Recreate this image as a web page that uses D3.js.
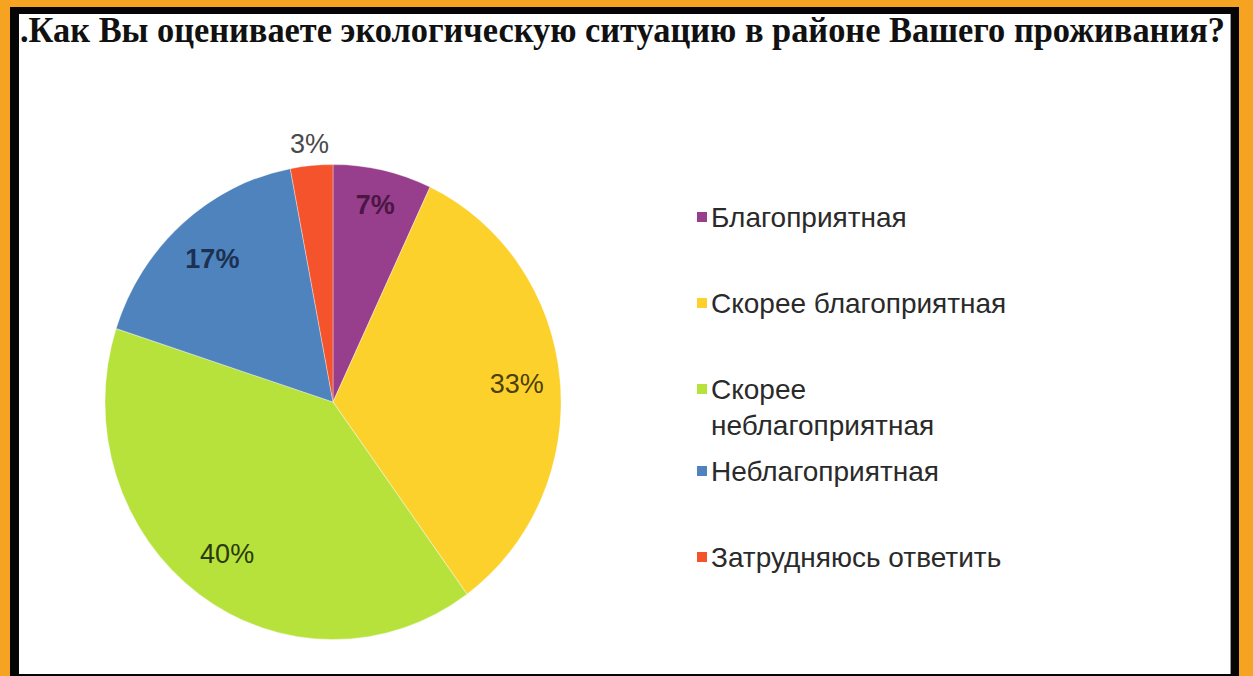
<!DOCTYPE html>
<html>
<head>
<meta charset="utf-8">
<script src="https://cdn.jsdelivr.net/npm/d3@7"></script>
<style>
  html, body { margin: 0; padding: 0; background: #fff; }
  svg { display: block; }
</style>
</head>
<body>
<svg id="chart" width="1253" height="676"></svg>
<script>
const title = ".Как Вы оцениваете экологическую ситуацию в районе Вашего проживания?";
const categories = ["Благоприятная", "Скорее благоприятная", "Скорее неблагоприятная", "Неблагоприятная", "Затрудняюсь ответить"];
const legendLines = [["Благоприятная"], ["Скорее благоприятная"], ["Скорее", "неблагоприятная"], ["Неблагоприятная"], ["Затрудняюсь ответить"]];
const values = [7, 33, 40, 17, 3];
const valueLabels = ["7%", "33%", "40%", "17%", "3%"];
const colors = ["#973f8c", "#fdd12b", "#b6e23b", "#4f83bd", "#f4532b"];
const labelColors = ["#4a1744", "#4d3f0c", "#2b3a0c", "#1c3052", "#4a4a4a"];

const svg = d3.select("#chart");
const W = 1253, H = 676;

// frame
svg.append("rect").attr("x", 0).attr("y", 0).attr("width", W).attr("height", H).attr("fill", "#f5a321");
svg.append("rect").attr("x", 10).attr("y", 7).attr("width", 1229).attr("height", H - 7).attr("fill", "#050505");
svg.append("rect").attr("x", 19).attr("y", 14).attr("width", 1212).attr("height", 660).attr("fill", "#ffffff");
svg.append("line").attr("x1", 1230.5).attr("x2", 1230.5).attr("y1", 14).attr("y2", 674).attr("stroke", "#9a9a9a").attr("stroke-width", 1);

// title
svg.append("text")
  .attr("x", 20).attr("y", 42)
  .attr("font-family", "'Liberation Serif', 'Times New Roman', serif")
  .attr("font-weight", "bold")
  .attr("font-size", 35)
  .attr("fill", "#111")
  .attr("textLength", 1205)
  .attr("lengthAdjust", "spacingAndGlyphs")
  .text(title);

// pie
const cx = 333, cy = 402, r = 228, sy = 1.042;
const pie = d3.pie().sort(null).value(d => d)(values);
const arc = d3.arc().innerRadius(0).outerRadius(r);
const g = svg.append("g").attr("transform", `translate(${cx},${cy}) scale(1,${sy})`);
g.selectAll("path").data(pie).enter().append("path")
  .attr("d", arc)
  .attr("fill", (d, i) => colors[i])
  .attr("stroke", "rgba(255,255,255,0.35)")
  .attr("stroke-width", 1);

// labels (positions along each slice's mid-angle)
const labelRadius = [0.85, 0.81, 0.79, 0.8, 1.09];
const labelWeights = ["bold", "normal", "normal", "bold", "normal"];
pie.forEach((d, i) => {
  const a = (d.startAngle + d.endAngle) / 2;
  const rr = r * labelRadius[i];
  const x = cx + Math.sin(a) * rr;
  const y = cy - Math.cos(a) * rr * sy;
  svg.append("text")
    .attr("x", x).attr("y", y)
    .attr("text-anchor", "middle")
    .attr("dominant-baseline", "central")
    .attr("font-family", "'Liberation Sans', Arial, sans-serif")
    .attr("font-size", 27)
    .attr("font-weight", labelWeights[i])
    .attr("fill", labelColors[i])
    .text(valueLabels[i]);
});

// legend
const legendY = [217, 303, 389, 471, 557];
const legend = svg.append("g");
categories.forEach((c, i) => {
  const y = legendY[i];
  legend.append("rect")
    .attr("x", 697).attr("y", y - 5).attr("width", 10).attr("height", 10)
    .attr("fill", colors[i]);
  legendLines[i].forEach((line, j) => {
    legend.append("text")
      .attr("x", 711).attr("y", y + j * 36)
      .attr("dominant-baseline", "central")
      .attr("font-family", "'Liberation Sans', Arial, sans-serif")
      .attr("font-size", 28)
      .attr("fill", "#2a2a2a")
      .text(line);
  });
});
</script>
</body>
</html>
